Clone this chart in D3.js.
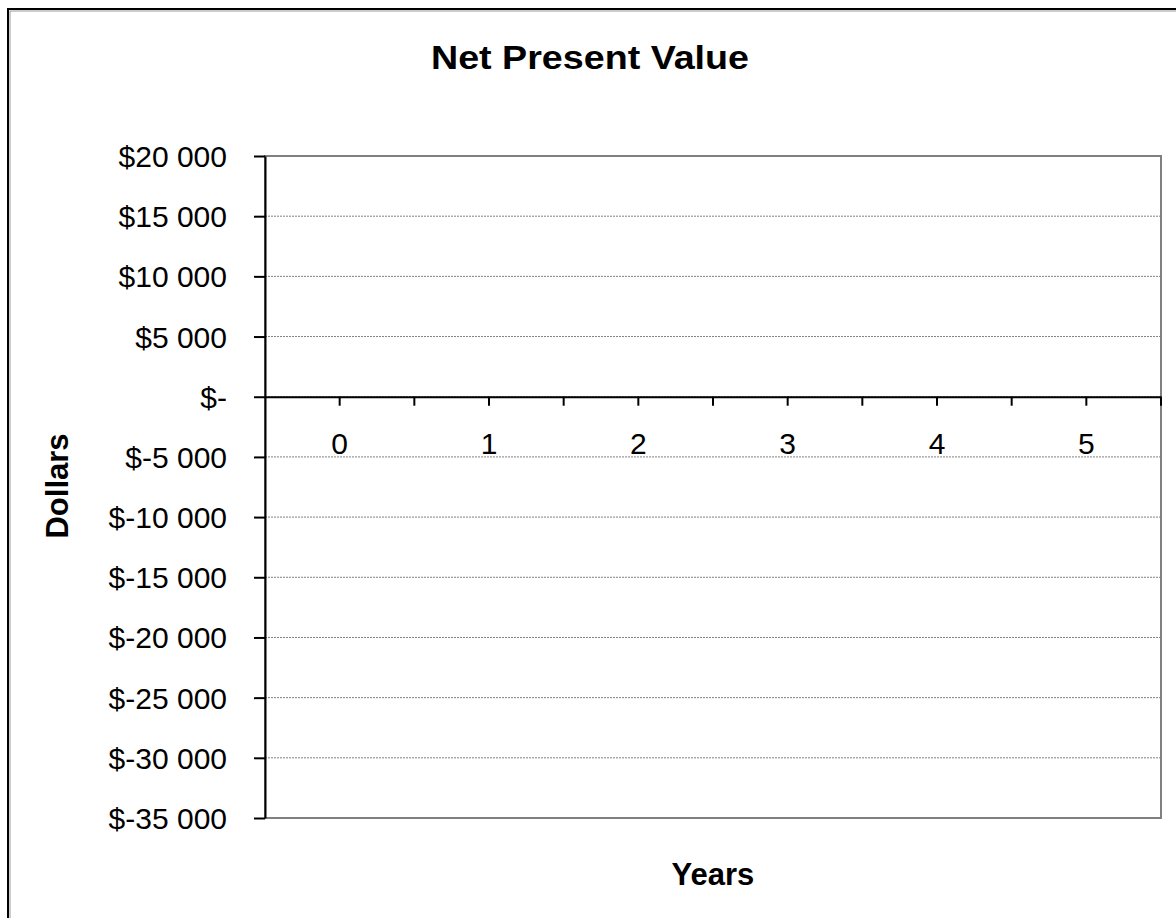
<!DOCTYPE html>
<html>
<head>
<meta charset="utf-8">
<script src="https://d3js.org/d3.v7.min.js"></script>
<style>
  html, body { margin: 0; padding: 0; background: #fff; }
  svg { display: block; font-family: Arial, "Liberation Sans", sans-serif; }
</style>
</head>
<body>
<svg id="chart" width="1176" height="918"></svg>
<script>
// ---- data ----
const categories = ["0", "1", "2", "3", "4", "5"];
const npvValues = [];            // no series values are plotted in the reference
const yTickValues = [20000, 15000, 10000, 5000, 0, -5000, -10000, -15000, -20000, -25000, -30000, -35000];
const yTickLabels = ["$20 000", "$15 000", "$10 000", "$5 000", "$-", "$-5 000", "$-10 000", "$-15 000", "$-20 000", "$-25 000", "$-30 000", "$-35 000"];
const titleText = "Net Present Value";
const xTitle = "Years";
const yTitle = "Dollars";

// ---- layout ----
const svg = d3.select("#chart");
const plot = { left: 265, right: 1161, top: 156, bottom: 818 };
const FONT = "Arial, 'Liberation Sans', sans-serif";

// outer chart border
svg.append("rect").attr("x", 8).attr("y", 9).attr("width", 1180).attr("height", 920)
  .attr("fill", "#fff").attr("stroke", "#000").attr("stroke-width", 2);
svg.append("rect").attr("x", 10).attr("y", 11).attr("width", 1180).attr("height", 920)
  .attr("fill", "none").attr("stroke", "#999").attr("stroke-width", 1);

const x = d3.scaleBand().domain(categories).range([plot.left, plot.right]);
const y = d3.scaleLinear().domain([-35000, 20000]).range([plot.bottom, plot.top]);

// gridlines
svg.append("g").selectAll("line").data(yTickValues).join("line")
  .attr("x1", plot.left).attr("x2", plot.right)
  .attr("y1", d => y(d)).attr("y2", d => y(d))
  .attr("stroke", "#808080").attr("stroke-width", 1).attr("stroke-dasharray", "2 1");

// plot border
svg.append("rect").attr("x", plot.left).attr("y", plot.top)
  .attr("width", plot.right - plot.left).attr("height", plot.bottom - plot.top)
  .attr("fill", "none").attr("stroke", "#808080").attr("stroke-width", 2);

// series (empty)
svg.append("path").datum(npvValues)
  .attr("fill", "none").attr("stroke", "#000080").attr("stroke-width", 2)
  .attr("d", d3.line().x((d, i) => x(categories[i]) + x.bandwidth() / 2).y(d => y(d)));

// y axis
const labelMap = new Map(yTickValues.map((v, i) => [v, yTickLabels[i]]));
const yAxis = svg.append("g").attr("transform", `translate(${plot.left},0)`)
  .call(d3.axisLeft(y).tickValues(yTickValues).tickFormat(d => labelMap.get(d))
    .tickSizeInner(11).tickSizeOuter(0).tickPadding(27));
yAxis.select(".domain").attr("stroke", "#000").attr("stroke-width", 2);
yAxis.selectAll(".tick line").attr("stroke", "#000").attr("stroke-width", 2);
yAxis.selectAll(".tick text").attr("font-size", 30).attr("fill", "#000")
  .attr("font-family", FONT).attr("dy", "0.35em");

// x axis at zero
const y0 = y(0);
const xAxis = svg.append("g").attr("transform", `translate(0,${y0})`)
  .call(d3.axisBottom(x).tickSizeInner(9).tickSizeOuter(0).tickPadding(27));
xAxis.select(".domain").attr("stroke", "#000").attr("stroke-width", 2);
xAxis.selectAll(".tick line").attr("stroke", "#000").attr("stroke-width", 2);
xAxis.selectAll(".tick text").attr("font-size", 30).attr("fill", "#000")
  .attr("font-family", FONT);
// category boundary ticks
const boundaries = categories.slice(1).map(c => x(c)).concat([plot.right]);
svg.append("g").selectAll("line").data(boundaries).join("line")
  .attr("x1", d => d).attr("x2", d => d).attr("y1", y0).attr("y2", y0 + 9)
  .attr("stroke", "#000").attr("stroke-width", 2);

// titles
svg.append("text").attr("x", 590).attr("y", 69).attr("text-anchor", "middle")
  .attr("font-size", 33).attr("font-weight", "bold")
  .attr("textLength", 318).attr("lengthAdjust", "spacingAndGlyphs").text(titleText);
svg.append("text").attr("x", 713).attr("y", 885).attr("text-anchor", "middle")
  .attr("font-size", 31).attr("font-weight", "bold").text(xTitle);
svg.append("text").attr("transform", "translate(68,486) rotate(-90)").attr("text-anchor", "middle")
  .attr("font-size", 31).attr("font-weight", "bold").text(yTitle);
</script>
</body>
</html>
